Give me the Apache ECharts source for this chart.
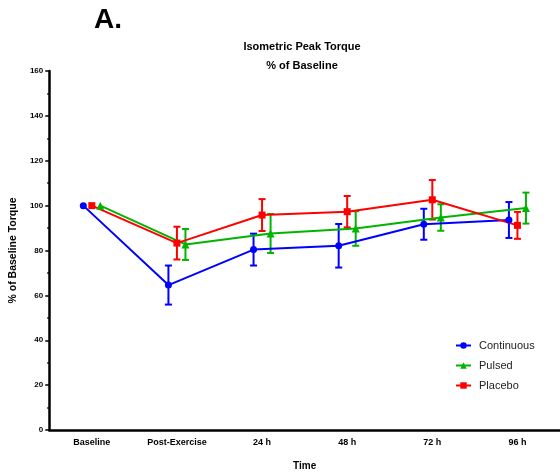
<!DOCTYPE html>
<html>
<head>
<meta charset="utf-8">
<script src="https://cdn.jsdelivr.net/npm/echarts@6/dist/echarts.min.js"></script>
<style>
html,body{margin:0;padding:0;background:#fff;}
#chart{width:560px;height:476px;}
</style>
</head>
<body>
<div id="chart"></div>
<script>
const categories = ['Baseline', 'Post-Exercise', '24 h', '48 h', '72 h', '96 h'];
const continuousMean = [100, 64.6, 80.4, 82.1, 91.7, 93.6];
const continuousSD   = [0, 8.7, 7.1, 9.7, 6.9, 8.0];
const pulsedMean     = [100, 82.7, 87.6, 89.8, 94.7, 98.9];
const pulsedSD       = [0, 6.9, 8.7, 7.7, 5.9, 6.9];
const placeboMean    = [100, 83.3, 95.8, 97.3, 102.6, 91.2];
const placeboSD      = [0, 7.3, 7.1, 7.0, 8.8, 6.0];
const yMin = 0, yMax = 160, yStep = 20;

const FONT = '"Liberation Sans", Arial, sans-serif';
const groups = [
  {name: 'Continuous', mean: continuousMean, sd: continuousSD, color: '#0000ff', symbol: 'circle', size: 7, off: -0.1},
  {name: 'Pulsed', mean: pulsedMean, sd: pulsedSD, color: '#00b400', symbol: 'triangle', size: 8, off: 0.1},
  {name: 'Placebo', mean: placeboMean, sd: placeboSD, color: '#ff0000', symbol: 'rect', size: 7, off: 0}
];

const series = [];
groups.forEach(g => {
  series.push({
    type: 'custom',
    xAxisIndex: 1,
    silent: true,
    z: 3,
    data: g.mean.map((m, i) => [i + g.off, m - g.sd[i], m + g.sd[i]]).filter((d, i) => g.sd[i] > 0),
    renderItem: function (params, api) {
      const lo = api.coord([api.value(0), api.value(1)]);
      const hi = api.coord([api.value(0), api.value(2)]);
      const hw = 3.5;
      const st = {stroke: g.color, lineWidth: 2, fill: null};
      return {type: 'group', children: [
        {type: 'line', shape: {x1: lo[0], y1: lo[1], x2: hi[0], y2: hi[1]}, style: st},
        {type: 'line', shape: {x1: lo[0] - hw, y1: lo[1], x2: lo[0] + hw, y2: lo[1]}, style: st},
        {type: 'line', shape: {x1: hi[0] - hw, y1: hi[1], x2: hi[0] + hw, y2: hi[1]}, style: st}
      ]};
    }
  });
});
groups.forEach(g => {
  series.push({
    name: g.name,
    type: 'line',
    xAxisIndex: 1,
    z: 4,
    data: g.mean.map((m, i) => [i + g.off, m]),
    symbol: g.symbol,
    symbolSize: g.size,
    showAllSymbol: true,
    lineStyle: {color: g.color, width: 2},
    itemStyle: {color: g.color},
    emphasis: {disabled: true}
  });
});

const chart = echarts.init(document.getElementById('chart'));
chart.setOption({
  animation: false,
  backgroundColor: '#fff',
  textStyle: {fontFamily: FONT},
  graphic: [
    {type: 'text', left: 94, top: 6, style: {text: 'A.', font: 'bold 28px ' + FONT, fill: '#000'}},
    {type: 'text', x: 302, y: 47, style: {text: 'Isometric Peak Torque', font: 'bold 11px ' + FONT, fill: '#000', align: 'center', verticalAlign: 'middle'}},
    {type: 'text', x: 302, y: 66, style: {text: '% of Baseline', font: 'bold 11px ' + FONT, fill: '#000', align: 'center', verticalAlign: 'middle'}}
  ],
  legend: {
    orient: 'vertical',
    left: 455,
    top: 340,
    padding: 0,
    itemWidth: 15,
    itemHeight: 8,
    itemGap: 9,
    data: ['Continuous', 'Pulsed', 'Placebo'],
    textStyle: {fontFamily: FONT, fontSize: 11, color: '#222', padding: [0, 0, 0, 3]}
  },
  grid: {left: 48.5, right: 0, top: 71, bottom: 45.5, containLabel: false},
  xAxis: [
    {
      type: 'category',
      data: categories,
      boundaryGap: true,
      name: 'Time',
      nameLocation: 'middle',
      nameGap: 31,
      nameTextStyle: {fontFamily: FONT, fontSize: 10, fontWeight: 'bold', color: '#000'},
      axisLine: {onZero: false, lineStyle: {color: '#000', width: 2.5}},
      axisTick: {alignWithLabel: true, length: 4, lineStyle: {color: '#000', width: 1.5}},
      axisLabel: {fontFamily: FONT, fontSize: 9, fontWeight: 'bold', color: '#000', margin: 8, interval: 0},
      splitLine: {show: false}
    },
    {
      type: 'value',
      min: -0.5,
      max: 5.5,
      show: false,
      splitLine: {show: false}
    }
  ],
  yAxis: {
    type: 'value',
    min: yMin,
    max: yMax,
    interval: yStep,
    name: '% of Baseline Torque',
    nameLocation: 'middle',
    nameGap: 29,
    nameRotate: 90,
    nameTextStyle: {fontFamily: FONT, fontSize: 10.5, fontWeight: 'bold', color: '#000'},
    axisLine: {show: true, onZero: false, lineStyle: {color: '#000', width: 2.5}},
    axisTick: {show: true, length: 4, lineStyle: {color: '#000', width: 1.5}},
    minorTick: {show: true, splitNumber: 2, length: 2, lineStyle: {color: '#000', width: 1.5}},
    axisLabel: {fontFamily: FONT, fontSize: 8, fontWeight: 'bold', color: '#000', margin: 6},
    splitLine: {show: false}
  },
  series: series
});
</script>
</body>
</html>
